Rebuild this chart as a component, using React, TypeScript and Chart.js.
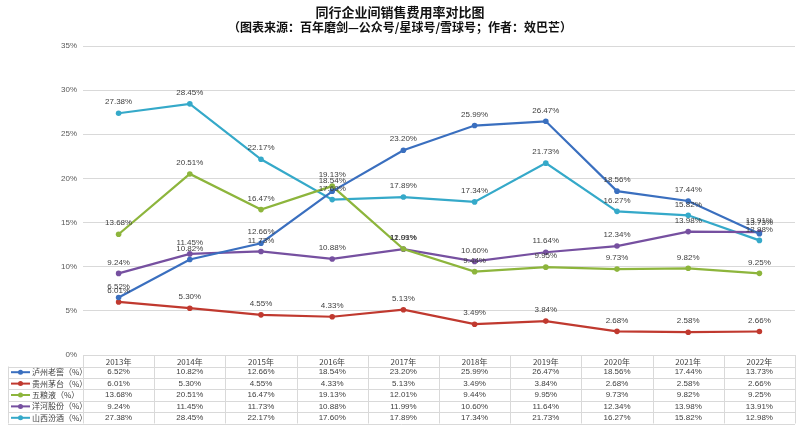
import React, { useEffect, useRef } from "react";
import { Chart, registerables } from "chart.js";

Chart.register(...registerables);

const titleLines = ["同行企业间销售费用率对比图", "（图表来源：百年磨剑—公众号/星球号/雪球号；作者：效巴芒）"];
const years = ["2013年", "2014年", "2015年", "2016年", "2017年", "2018年", "2019年", "2020年", "2021年", "2022年"];
const seriesNames = ["泸州老窖（%）", "贵州茅台（%）", "五粮液（%）", "洋河股份（%）", "山西汾酒（%）"];
const luzhou = [6.52, 10.82, 12.66, 18.54, 23.2, 25.99, 26.47, 18.56, 17.44, 13.73];
const maotai = [6.01, 5.3, 4.55, 4.33, 5.13, 3.49, 3.84, 2.68, 2.58, 2.66];
const wuliangye = [13.68, 20.51, 16.47, 19.13, 12.01, 9.44, 9.95, 9.73, 9.82, 9.25];
const yanghe = [9.24, 11.45, 11.73, 10.88, 11.99, 10.6, 11.64, 12.34, 13.98, 13.91];
const fenjiu = [27.38, 28.45, 22.17, 17.6, 17.89, 17.34, 21.73, 16.27, 15.82, 12.98];
const colors = ["#3a6fbf", "#c0392f", "#8db53c", "#7650a0", "#35a9c9"];
const yMin = 0;
const yMax = 35;
const yStep = 5;

const labelFont = '8px "Liberation Sans Narrow", "Liberation Sans", sans-serif';
const cjkFont = '8px "Noto Sans CJK SC", sans-serif';

const pct = (v: number) => v.toFixed(2) + "%";

const titlePlugin = {
  id: "titleLines",
  afterDraw(chart: any) {
    const ctx = chart.ctx;
    ctx.save();
    ctx.fillStyle = "#111";
    ctx.textAlign = "center";
    ctx.textBaseline = "middle";
    ctx.font = 'bold 13px "Noto Sans CJK SC", serif';
    ctx.fillText(titleLines[0], 400, 12);
    ctx.font = 'bold 12px "Noto Sans CJK SC", serif';
    ctx.fillText(titleLines[1], 400, 27);
    ctx.restore();
  },
};

const dataLabelPlugin = {
  id: "dataLabels",
  afterDatasetsDraw(chart: any) {
    const ctx = chart.ctx;
    ctx.save();
    ctx.font = labelFont;
    ctx.fillStyle = "#404040";
    ctx.textAlign = "center";
    ctx.textBaseline = "middle";
    chart.data.datasets.forEach((ds: any, i: number) => {
      const meta = chart.getDatasetMeta(i);
      meta.data.forEach((pt: any, j: number) => {
        ctx.fillText(pct(ds.data[j]), pt.x, pt.y - 11);
      });
    });
    ctx.restore();
  },
};

const tablePlugin = {
  id: "dataTable",
  afterDraw(chart: any) {
    const ctx = chart.ctx;
    const area = chart.chartArea;
    const n = years.length;
    const colW = (area.right - area.left) / n;
    const top = area.bottom;
    const headerH = 11.5;
    const rowH = 11.4;
    const leftEdge = 8;
    const bottom = top + headerH + rowH * seriesNames.length;
    ctx.save();
    ctx.strokeStyle = "#d9d9d9";
    ctx.lineWidth = 1;
    ctx.beginPath();
    ctx.moveTo(area.left, top + 0.5);
    ctx.lineTo(area.right, top + 0.5);
    for (let k = 0; k <= seriesNames.length; k++) {
      const y = Math.round(top + headerH + k * rowH) + 0.5;
      ctx.moveTo(leftEdge, y);
      ctx.lineTo(area.right, y);
    }
    for (let c = 0; c <= n; c++) {
      const x = Math.round(area.left + c * colW) + 0.5;
      ctx.moveTo(x, top);
      ctx.lineTo(x, bottom);
    }
    ctx.moveTo(leftEdge + 0.5, top + headerH);
    ctx.lineTo(leftEdge + 0.5, bottom);
    ctx.stroke();

    ctx.fillStyle = "#404040";
    ctx.textBaseline = "middle";
    ctx.textAlign = "center";
    ctx.font = cjkFont;
    years.forEach((yr, c) => {
      ctx.fillText(yr, area.left + (c + 0.5) * colW, top + headerH / 2 + 1);
    });
    const all = chart.data.datasets;
    all.forEach((ds: any, r: number) => {
      const cy = top + headerH + (r + 0.5) * rowH;
      ctx.textAlign = "center";
      ctx.font = labelFont;
      ctx.fillStyle = "#404040";
      ds.data.forEach((v: number, c: number) => {
        ctx.fillText(pct(v), area.left + (c + 0.5) * colW, cy);
      });
      ctx.strokeStyle = colors[r];
      ctx.lineWidth = 2;
      ctx.beginPath();
      ctx.moveTo(11, cy);
      ctx.lineTo(30, cy);
      ctx.stroke();
      ctx.fillStyle = colors[r];
      ctx.beginPath();
      ctx.arc(20.5, cy, 2.5, 0, Math.PI * 2);
      ctx.fill();
      ctx.fillStyle = "#404040";
      ctx.textAlign = "left";
      ctx.font = cjkFont;
      ctx.fillText(seriesNames[r], 32, cy);
    });
    ctx.restore();
  },
};

export default function App() {
  const ref = useRef<HTMLCanvasElement>(null);
  useEffect(() => {
    if (!ref.current) return;
    const seriesData = [luzhou, maotai, wuliangye, yanghe, fenjiu];
    const chart = new Chart(ref.current, {
      type: "line",
      data: {
        labels: years,
        datasets: seriesData.map((d, i) => ({
          label: seriesNames[i],
          data: d,
          borderColor: colors[i],
          backgroundColor: colors[i],
          borderWidth: 2.2,
          pointRadius: 2.8,
          pointBorderWidth: 0,
          pointBackgroundColor: colors[i],
          tension: 0,
        })),
      },
      options: {
        responsive: false,
        animation: false,
        layout: { padding: { left: 0, right: 5, top: 46, bottom: 76 } },
        plugins: {
          legend: { display: false },
          title: { display: false },
          tooltip: { enabled: false },
        },
        scales: {
          x: {
            display: false,
            offset: true,
          },
          y: {
            min: yMin,
            max: yMax,
            afterFit: (s: any) => {
              s.width = 83;
            },
            border: { display: false },
            grid: { color: "#d9d9d9", lineWidth: 1, drawTicks: false },
            ticks: {
              stepSize: yStep,
              padding: 6,
              color: "#595959",
              font: { size: 8, family: '"Liberation Sans Narrow", "Liberation Sans", sans-serif' },
              callback: (v: any) => v + "%",
            },
          },
        },
      },
      plugins: [titlePlugin, dataLabelPlugin, tablePlugin],
    });
    return () => chart.destroy();
  }, []);
  return (
    <div style={{ position: "absolute", left: 0, top: 0, width: 800, height: 431, background: "#fff" }}>
      <canvas ref={ref} width={800} height={431} />
    </div>
  );
}
